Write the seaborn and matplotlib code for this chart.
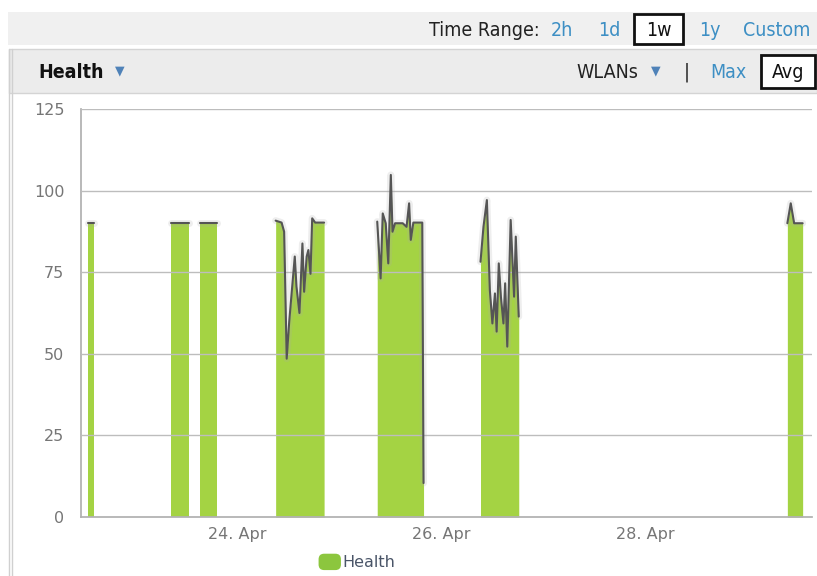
import numpy as np
import pandas as pd
import matplotlib
matplotlib.use("Agg")
import matplotlib.pyplot as plt
import matplotlib.dates as mdates
from matplotlib.patches import Rectangle, FancyBboxPatch, Patch
from matplotlib.legend_handler import HandlerPatch
import seaborn as sns

# ---------------- data (hours relative to 24 Apr 00:00, health values) -------------
seg1_hours = [-35.1, -33.6]
seg1_values = [90, 90]
seg2_hours = [-15.5, -11.2]
seg2_values = [90, 90]
seg3_hours = [-8.7, -4.8]
seg3_values = [90, 90]
seg4_hours = [9.1, 10.5, 11.1, 11.7, 12.3, 13.6, 14.0, 14.7, 15.4, 15.8, 16.4, 16.8, 17.3, 17.7, 18.4, 20.5]
seg4_values = [90.8, 90.2, 87.4, 48.5, 60.0, 79.8, 70.6, 62.5, 83.8, 69.0, 79.8, 81.8, 74.5, 91.5, 90.2, 90.2]
seg5_hours = [33.0, 33.8, 34.3, 35.0, 35.6, 36.2, 36.6, 37.2, 39.0, 39.9, 40.5, 40.9, 41.5, 43.6, 43.9]
seg5_values = [90.5, 73.1, 93.0, 90.0, 77.7, 104.8, 87.4, 90.0, 90.0, 88.9, 96.1, 84.9, 90.2, 90.2, 10.4]
seg6_hours = [57.3, 58.0, 58.8, 59.5, 60.1, 60.7, 61.1, 61.6, 62.1, 62.7, 63.1, 63.6, 64.4, 65.2, 65.6, 66.3]
seg6_values = [78.2, 88.9, 97.1, 69.5, 59.3, 68.5, 56.8, 77.7, 67.5, 59.3, 71.6, 52.2, 91.0, 67.5, 85.9, 61.4]
seg7_hours = [129.5, 130.3, 131.1, 133.1]
seg7_values = [90, 96.1, 90, 90]

y_ticks = [0, 25, 50, 75, 100, 125]
x_tick_dates = ["2013-04-24", "2013-04-26", "2013-04-28"]
series_name = "Health"
origin = pd.Timestamp("2013-04-24")
x_start_hours, x_end_hours = -36.7, 135.3

segments = [
    (seg1_hours, seg1_values), (seg2_hours, seg2_values), (seg3_hours, seg3_values),
    (seg4_hours, seg4_values), (seg5_hours, seg5_values), (seg6_hours, seg6_values),
    (seg7_hours, seg7_values),
]
rows = []
for i, (hs, vs) in enumerate(segments):
    for h, v in zip(hs, vs):
        rows.append({"seg": i, "time": origin + pd.Timedelta(hours=h), "value": v})
df = pd.DataFrame(rows)

# ---------------- figure ----------------
sns.set_theme(style="white")
plt.rcParams["font.family"] = ["DejaVu Sans"]

W, H = 817, 576
fig = plt.figure(figsize=(W / 100, H / 100), dpi=100)
fig.patch.set_facecolor("white")

def fx(px):
    return px / W

def fy(py):
    return 1 - py / H

# header decorations
fig.patches.append(Rectangle((fx(8), fy(45)), fx(817 - 8), (45 - 12) / H, transform=fig.transFigure,
                             facecolor="#f0f0f0", edgecolor="none", zorder=0))
fig.patches.append(Rectangle((fx(9), fy(93)), fx(817 - 9), (93 - 49) / H, transform=fig.transFigure,
                             facecolor="#ececec", edgecolor="#d4d4d4", linewidth=1, zorder=0))
for xx in (9, 12):
    fig.add_artist(plt.Line2D([fx(xx), fx(xx)], [fy(49), 0], transform=fig.transFigure,
                              color="#d0d0d0", linewidth=1))

fig.patches.append(Rectangle((fx(634), fy(44)), fx(683 - 634), (44 - 14) / H, transform=fig.transFigure,
                             facecolor="white", edgecolor="#111111", linewidth=2, zorder=1))
fig.patches.append(Rectangle((fx(761), fy(88)), fx(815 - 761), (88 - 55) / H, transform=fig.transFigure,
                             facecolor="white", edgecolor="#111111", linewidth=2, zorder=1))

blue = "#3d8fc4"
hfs = 14
cond = dict(fontstretch="condensed", va="center")
fig.text(fx(429), fy(30), "Time Range:", color="#222222", fontsize=hfs, ha="left", **cond)
fig.text(fx(562), fy(30), "2h", color=blue, fontsize=hfs, ha="center", **cond)
fig.text(fx(609), fy(30), "1d", color=blue, fontsize=hfs, ha="center", **cond)
fig.text(fx(658.5), fy(30), "1w", color="#111111", fontsize=hfs, ha="center", **cond)
fig.text(fx(710), fy(30), "1y", color=blue, fontsize=hfs, ha="center", **cond)
fig.text(fx(777), fy(30), "Custom", color=blue, fontsize=hfs, ha="center", **cond)

fig.text(fx(38), fy(72), "Health", color="#111111", fontsize=hfs, fontweight="bold", ha="left", **cond)
fig.text(fx(120), fy(71), "\u25BC", color="#4f82b8", fontsize=9, va="center", ha="center")
fig.text(fx(576), fy(72), "WLANs", color="#222222", fontsize=hfs, ha="left", **cond)
fig.text(fx(656), fy(71), "\u25BC", color="#4f82b8", fontsize=9, va="center", ha="center")
fig.text(fx(687), fy(72), "|", color="#222222", fontsize=hfs, ha="center", **cond)
fig.text(fx(728), fy(72), "Max", color=blue, fontsize=hfs, ha="center", **cond)
fig.text(fx(788), fy(72), "Avg", color="#111111", fontsize=hfs, ha="center", **cond)

# ---------------- axes ----------------
ax = fig.add_axes([fx(81), fy(517), fx(812 - 81), (517 - 109) / H])
ax.set_facecolor("white")

green = "#a4d343"
for i, g in df.groupby("seg"):
    ax.fill_between(g["time"], 0, g["value"], color=green, linewidth=0, zorder=2)

sns.lineplot(data=df, x="time", y="value", units="seg", estimator=None, ax=ax,
             color="#aaaaaa", linewidth=5, alpha=0.2, zorder=3, legend=False)
sns.lineplot(data=df, x="time", y="value", units="seg", estimator=None, ax=ax,
             color="#555555", linewidth=1.5, zorder=4, legend=False)

ax.set_xlim(origin + pd.Timedelta(hours=x_start_hours), origin + pd.Timedelta(hours=x_end_hours))
ax.set_ylim(0, 125)
ax.set_yticks(y_ticks)
ax.set_xticks(pd.to_datetime(x_tick_dates))
ax.xaxis.set_major_formatter(mdates.DateFormatter("%d. %b"))
ax.set_xlabel("")
ax.set_ylabel("")

ax.grid(axis="y", color="#bdbdbd", linewidth=1)
ax.grid(axis="x", visible=False)
ax.set_axisbelow(False)
for gl in ax.get_ygridlines():
    gl.set_zorder(2.5)

for side in ("top", "right"):
    ax.spines[side].set_visible(False)
ax.spines["left"].set_color("#b0b0b0")
ax.spines["bottom"].set_color("#b0b0b0")
ax.tick_params(axis="both", length=0, labelsize=11.5, labelcolor="#767676")
ax.tick_params(axis="y", pad=12)
ax.tick_params(axis="x", pad=7)

class RoundHandler(HandlerPatch):
    def create_artists(self, legend, orig_handle, xdescent, ydescent, width, height, fontsize, trans):
        p = FancyBboxPatch((-xdescent, -ydescent), width, height,
                           boxstyle="round,pad=0,rounding_size=4",
                           facecolor="#8cc63e", edgecolor="none", transform=trans)
        return [p]

handle = Patch(facecolor="#8cc63e", label=series_name)
leg = fig.legend(handles=[handle], loc="center", bbox_to_anchor=(fx(357), fy(562)),
                 bbox_transform=fig.transFigure, frameon=False, fontsize=11.5,
                 handler_map={Patch: RoundHandler()}, handlelength=1.4, handleheight=1.2,
                 handletextpad=0.1, labelcolor="#4a5568")

fig.savefig("out.png", dpi=100)
